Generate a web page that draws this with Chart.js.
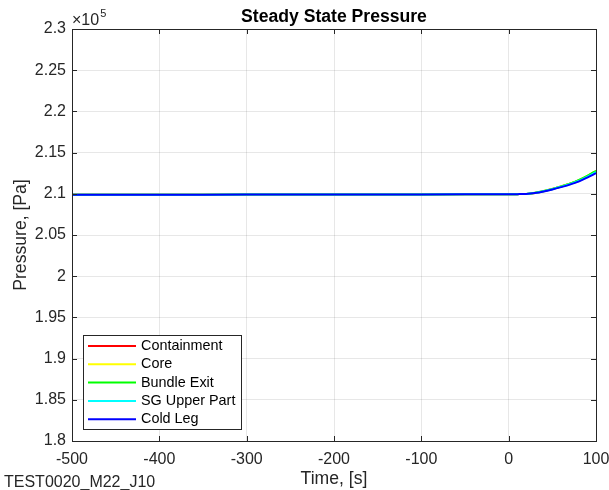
<!DOCTYPE html>
<html>
<head>
<meta charset="utf-8">
<title>Steady State Pressure</title>
<script src="https://cdn.jsdelivr.net/npm/chart.js@4.4.0/dist/chart.umd.min.js"></script>
<style>
  html, body { margin: 0; padding: 0; background: #fff; }
  #wrap { width: 609px; height: 490px; }
</style>
</head>
<body>
<div id="wrap"><canvas id="pressureChart" width="609" height="490"></canvas></div>
<script>
// Steady state pressure, values in Pa
const times = [-500, -400, -300, -200, -100, 0, 10, 20, 30, 40, 50, 60, 70, 80, 90, 100];

const containment = [209870, 209885, 209900, 209915, 209930, 209950, 209960, 209985, 210110, 210320, 210590, 210890, 211220, 211630, 212150, 212760];
const core        = [209870, 209885, 209900, 209915, 209930, 209950, 209960, 209985, 210110, 210320, 210590, 210890, 211220, 211630, 212150, 212760];
const bundleExit  = [209870, 209885, 209900, 209915, 209930, 209950, 209960, 209985, 210115, 210330, 210600, 210900, 211230, 211640, 212160, 212790];
const sgUpper     = [209870, 209885, 209900, 209915, 209930, 209950, 209960, 209985, 210105, 210300, 210560, 210850, 211160, 211550, 212060, 212630];
const coldLeg     = [209870, 209885, 209900, 209915, 209930, 209950, 209960, 209980, 210090, 210280, 210530, 210810, 211110, 211470, 211970, 212500];

const seriesNames = ['Containment', 'Core', 'Bundle Exit', 'SG Upper Part', 'Cold Leg'];
const seriesColors = ['#ff0000', '#ffff00', '#00ff00', '#00ffff', '#0000ff'];
const seriesValues = [containment, core, bundleExit, sgUpper, coldLeg];

const xTicks = [-500, -400, -300, -200, -100, 0, 100];
const yTicks = [180000, 185000, 190000, 195000, 200000, 205000, 210000, 215000, 220000, 225000, 230000];

const axisColor = '#262626';
const gridColor = 'rgba(38,38,38,0.11)';
const font = '"Liberation Sans", Arial, Helvetica, sans-serif';

function toPoints(values) {
  return times.map((t, i) => ({ x: t, y: values[i] }));
}

// frame, inner ticks, titles, exponent, legend, footer text
const matlabLook = {
  id: 'matlabLook',
  afterDraw(chart) {
    const ctx = chart.ctx;
    const a = chart.chartArea;
    const xs = chart.scales.x;
    const ys = chart.scales.y;
    const tl = 5;
    ctx.save();

    // ticks on all four sides
    ctx.strokeStyle = axisColor;
    ctx.lineWidth = 1;
    ctx.beginPath();
    xTicks.forEach(v => {
      const px = Math.round(xs.getPixelForValue(v)) + 0.5;
      ctx.moveTo(px, a.bottom); ctx.lineTo(px, a.bottom - tl);
      ctx.moveTo(px, a.top); ctx.lineTo(px, a.top + tl);
    });
    yTicks.forEach(v => {
      const py = Math.round(ys.getPixelForValue(v)) + 0.5;
      ctx.moveTo(a.left, py); ctx.lineTo(a.left + tl, py);
      ctx.moveTo(a.right, py); ctx.lineTo(a.right - tl, py);
    });
    ctx.stroke();

    // box
    ctx.strokeRect(Math.round(a.left) + 0.5, Math.round(a.top) + 0.5,
      Math.round(a.right - a.left), Math.round(a.bottom - a.top));

    const cx = (a.left + a.right) / 2;

    // title
    ctx.fillStyle = '#000';
    ctx.font = 'bold 17.6px ' + font;
    ctx.textAlign = 'center';
    ctx.textBaseline = 'alphabetic';
    ctx.fillText('Steady State Pressure', cx, 22);

    // axis titles
    ctx.fillStyle = axisColor;
    ctx.font = '17.6px ' + font;
    ctx.fillText('Time, [s]', cx, 484);
    ctx.save();
    ctx.translate(26, (a.top + a.bottom) / 2);
    ctx.rotate(-Math.PI / 2);
    ctx.fillText('Pressure, [Pa]', 0, 0);
    ctx.restore();

    // exponent
    ctx.textAlign = 'left';
    ctx.font = '16px ' + font;
    ctx.fillText('\u00d710', a.left, 25);
    const w = ctx.measureText('\u00d710').width;
    ctx.font = '11px ' + font;
    ctx.fillText('5', a.left + w + 1, 17);

    // footer
    ctx.font = '16px ' + font;
    ctx.fillText('TEST0020_M22_J10', 4, 487);

    // legend
    const lx = 83, ly = 335, lw = 158, lh = 94;
    ctx.fillStyle = '#fff';
    ctx.fillRect(lx, ly, lw, lh);
    ctx.strokeStyle = axisColor;
    ctx.lineWidth = 1;
    ctx.strokeRect(lx + 0.5, ly + 0.5, lw, lh);
    ctx.font = '14.4px ' + font;
    ctx.textBaseline = 'middle';
    seriesNames.forEach((name, i) => {
      const ry = 346 + i * 18.3;
      ctx.strokeStyle = seriesColors[i];
      ctx.lineWidth = 2;
      ctx.beginPath();
      ctx.moveTo(88, ry); ctx.lineTo(136, ry);
      ctx.stroke();
      ctx.fillStyle = '#000';
      ctx.fillText(name, 141, ry);
    });

    ctx.restore();
  }
};

const datasets = seriesNames.map((name, i) => ({
  label: name,
  data: toPoints(seriesValues[i]),
  borderColor: seriesColors[i],
  backgroundColor: seriesColors[i],
  borderWidth: 2,
  pointRadius: 0,
  tension: 0.3,
  fill: false,
  order: seriesNames.length - i
}));

new Chart(document.getElementById('pressureChart'), {
  type: 'line',
  data: { datasets: datasets },
  plugins: [matlabLook],
  options: {
    responsive: false,
    animation: false,
    devicePixelRatio: 1,
    layout: { padding: { top: 29, right: 13, left: 0, bottom: 0 } },
    plugins: {
      legend: { display: false },
      title: { display: false },
      tooltip: { enabled: false }
    },
    scales: {
      x: {
        type: 'linear',
        min: -500,
        max: 100,
        afterBuildTicks(scale) { scale.ticks = xTicks.map(v => ({ value: v })); },
        afterFit(scale) { scale.height = 49; scale.paddingLeft = 0; scale.paddingRight = 0; },
        grid: { color: gridColor, drawTicks: false },
        border: { display: false },
        ticks: {
          color: axisColor,
          font: { family: font, size: 16 },
          padding: 9,
          maxRotation: 0,
          autoSkip: false
        }
      },
      y: {
        type: 'linear',
        min: 180000,
        max: 230000,
        afterBuildTicks(scale) { scale.ticks = yTicks.map(v => ({ value: v })); },
        afterFit(scale) { scale.width = 72; scale.paddingTop = 0; scale.paddingBottom = 0; },
        grid: { color: gridColor, drawTicks: false },
        border: { display: false },
        ticks: {
          color: axisColor,
          font: { family: font, size: 16 },
          padding: 6,
          autoSkip: false,
          callback: v => String(Number((v / 1e5).toFixed(2)))
        }
      }
    }
  }
});
</script>
</body>
</html>
